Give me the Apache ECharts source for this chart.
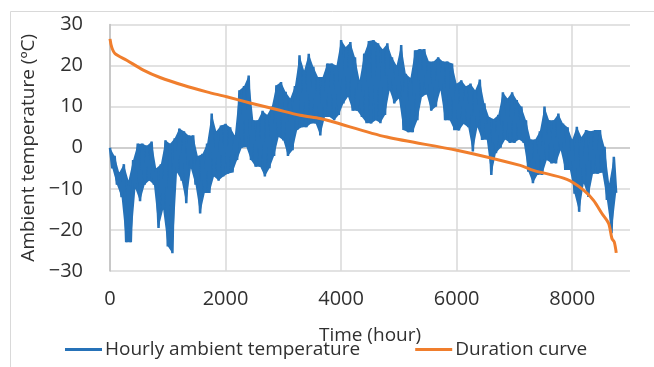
<!DOCTYPE html>
<html><head><meta charset="utf-8">
<script src="https://cdn.jsdelivr.net/npm/echarts@6/dist/echarts.min.js"></script>
<style>html,body{margin:0;padding:0;background:#fff}#c{width:654px;height:367px}</style>
</head><body><div id="c"></div>
<script>
// Hourly ambient temperature read from the picture as an upper and lower envelope,
// one pair per 80-hour bin (high at the start of the bin, low 40 h later)
const binHours = 80;
const tempHigh = [
  0, -2, -6, -4, -8, -3, 1, 1, 0.5, 1.5,
  -5, -4, 1.8, 1, 2.3, 4.7, 4, 3, 3, -2,
  -1.5, 1, 8.3, 4, 5.4, 5.8, 5, 3, 14, 15,
  17.6, 6.7, 6.7, 9, 8, 10, 15.2, 16, 13.6, 12,
  15, 22.5, 18.8, 22.9, 19.7, 17.2, 17.2, 20.5, 20.5, 20,
  26.2, 24.5, 25.7, 22, 16.4, 22.9, 26, 26.2, 25.4, 24,
  25.4, 22, 20, 25, 18, 17, 23.7, 24, 24, 21,
  21, 22, 21, 21, 20.5, 15.6, 16.4, 15, 15.6, 14,
  16.6, 10.8, 7.5, 7, 8, 13.5, 12, 13.5, 11.6, 10,
  6.7, 2, 2, 4, 10, 6.7, 6.7, 8.3, 5.9, 5,
  2, 5.1, 2.6, 4.3, 4, 4.3, 4.3, 0.2, -8.7, -2.2
];
const tempLow = [
  -5, -9, -12, -23, -23, -10, -13, -9, -8, -9,
  -19.5, -15, -24, -25.7, -6, -8, -13.5, -5, -9, -16,
  -11, -11, -7, -8, -7, -6.3, -6, -3, 0, 0.2,
  -3, -4.6, -4.6, -7, -5, -2, 2.6, 1.8, -2, -0.6,
  4.3, 5, 5, 5.9, 5.9, 3, 7.5, 7.5, 6.7, 8,
  10.8, 12.4, 9, 9, 7.5, 6, 5.9, 6.7, 6, 8,
  14, 10.8, 12, 4.3, 3.8, 3.8, 6.7, 12.4, 13, 9,
  10, 14, 6.7, 6.7, 4.3, 4.2, 5.8, 5, -0.9, 5,
  1.9, 2, -6.6, -1.3, 0, 2, 1.2, 1.2, 2, 1.2,
  -5.8, -8.6, -6.6, -6.6, -3, -3.8, -3.8, -0.6, -5.4, -5.4,
  -11.2, -15.6, -8.7, -12, -6.3, -6.3, -6, -12.7, -20.8, -11
];
// Duration curve (sorted temperatures) read at selected hours
const durHours  = [0, 29, 87, 289, 577, 866, 1270, 1674, 2020, 2424, 2886, 3290, 3636, 3810, 4791, 6003, 7100, 7330, 7908, 8196, 8369, 8514, 8630, 8687, 8727, 8762];
const durValues = [26.5, 24.5, 22.9, 21.3, 18.9, 17.1, 15.2, 13.6, 12.4, 10.9, 9.3, 7.9, 7.1, 6.5, 2.6, -0.6, -4.3, -5.5, -7.7, -10.3, -12.8, -16, -18.4, -22.1, -22.9, -25.6];
const xTicks = {min: 0, max: 9000, interval: 2000};
const yTicks = {min: -30, max: 30, interval: 10};
const seriesNames = ['Hourly ambient temperature', 'Duration curve'];

const BLUE = '#2672B8', ORANGE = '#F07E2D', TEXT = '#303030';
const tempData = [];
tempHigh.forEach((hi, i) => {
  tempData.push([i * binHours, hi]);
  tempData.push([i * binHours + binHours / 2, tempLow[i]]);
});
const durData = durHours.map((h, i) => [h, durValues[i]]);
const FONT = 'Open Sans';
const chart = echarts.init(document.getElementById('c'), null, {renderer: 'canvas'});
chart.setOption({
  animation: false,
  backgroundColor: '#fff',
  textStyle: {fontFamily: FONT},
  graphic: [{type: 'rect', shape: {x: 10.5, y: 11.5, width: 700, height: 400}, style: {fill: 'none', stroke: '#d9d9d9', lineWidth: 1}, silent: true}],
  grid: {left: 110, right: 24, top: 24.5, bottom: 96, containLabel: false},
  legend: {
    data: seriesNames, left: 60, top: 335, itemWidth: 37, itemHeight: 3, itemGap: 55, icon: 'rect',
    textStyle: {fontFamily: FONT, fontSize: 19, color: TEXT, padding: [0, 0, 0, -2]}
  },
  xAxis: {
    type: 'value', min: xTicks.min, max: xTicks.max, interval: xTicks.interval,
    name: 'Time (hour)', nameLocation: 'middle', nameGap: 55,
    nameTextStyle: {fontFamily: FONT, fontSize: 19, color: TEXT},
    axisLine: {show: false}, axisTick: {show: false},
    axisLabel: {fontFamily: FONT, fontSize: 20, color: TEXT, margin: 18, showMaxLabel: false,
      formatter: v => String(v)},
    splitLine: {show: true, showMaxLine: false, lineStyle: {color: '#d9d9d9', width: 1.5}}
  },
  yAxis: {
    type: 'value', min: yTicks.min, max: yTicks.max, interval: yTicks.interval,
    name: 'Ambient temperature (ºC)', nameLocation: 'middle', nameGap: 67, nameRotate: 90,
    nameTextStyle: {fontFamily: FONT, fontSize: 19, color: TEXT},
    axisLine: {show: true, onZero: false, lineStyle: {color: '#bfbfbf', width: 1.5}},
    axisTick: {show: false},
    axisLabel: {fontFamily: FONT, fontSize: 20, color: TEXT, margin: 27,
      formatter: v => String(v).replace('-', '\u2212')},
    splitLine: {show: true, lineStyle: {color: ['#d9d9d9', '#d9d9d9', '#d9d9d9', '#bfbfbf', '#d9d9d9', '#d9d9d9', '#d9d9d9'], width: 1.5}}
  },
  series: [
    {name: 'band', type: 'custom', data: tempData, silent: true, z: 1,
      renderItem: (params, api) => {
        if (params.dataIndex !== 0) return null;
        const upper = tempHigh.map((h, i) => api.coord([i * binHours, h]));
        const lower = tempLow.map((l, i) => api.coord([i * binHours + binHours / 2, l])).reverse();
        return {type: 'polygon', shape: {points: upper.concat(lower)}, style: {fill: BLUE, stroke: null}};
      }},
    {name: seriesNames[0], type: 'line', data: tempData, showSymbol: false, symbol: 'none',
      lineStyle: {color: BLUE, width: 2.5}, itemStyle: {color: BLUE}, z: 2},
    {name: seriesNames[1], type: 'line', data: durData, showSymbol: false, symbol: 'none', smooth: 0.3,
      lineStyle: {color: ORANGE, width: 3}, itemStyle: {color: ORANGE}, z: 3}
  ]
});
</script></body></html>
